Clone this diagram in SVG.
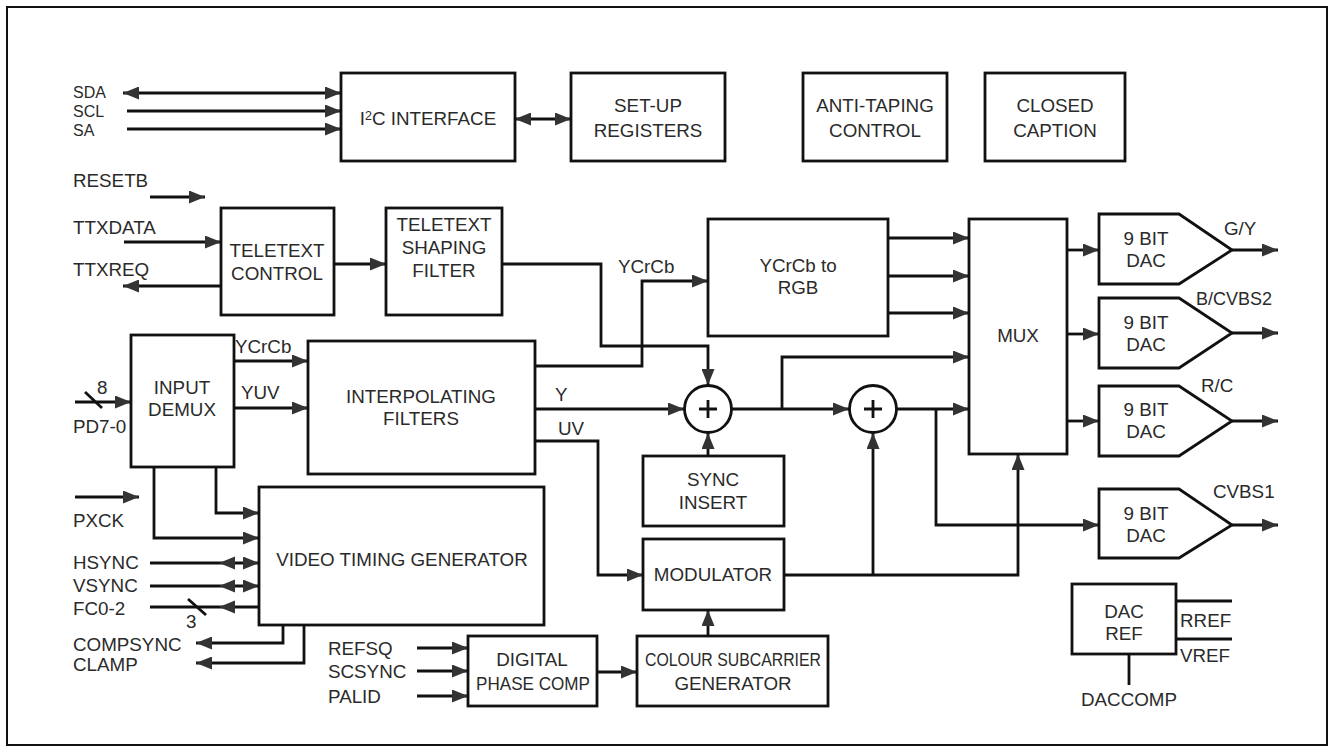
<svg xmlns="http://www.w3.org/2000/svg" width="1334" height="752" viewBox="0 0 1334 752">
<style>
.b{fill:#fff;stroke:#111;stroke-width:2.8}
.l{fill:none;stroke:#111;stroke-width:2.8}
.t{font-family:"Liberation Sans",Arial,sans-serif;font-size:18.8px;fill:#2a2a2a}
.s{font-size:16px}
.c{text-anchor:middle}
.ah{fill:#333}
</style>
<defs>
<marker id="a" markerWidth="16" markerHeight="13" refX="16" refY="6.5" orient="auto-start-reverse" markerUnits="userSpaceOnUse"><path d="M0,0 L16,6.5 L0,13 z" fill="#333"/></marker>
</defs>
<rect x="7" y="7" width="1320" height="738" fill="#fff" stroke="#111" stroke-width="2"/>

<g id="connectors">
<path class="l" d="M123,93 H341" marker-start="url(#a)" marker-end="url(#a)"/>
<path class="l" d="M127,111 H341" marker-end="url(#a)"/>
<path class="l" d="M127,129 H341" marker-end="url(#a)"/>
<path class="l" d="M515,119 H571" marker-start="url(#a)" marker-end="url(#a)"/>
<path class="l" d="M150,197 H205" marker-end="url(#a)"/>
<path class="l" d="M124,242 H221" marker-end="url(#a)"/>
<path class="l" d="M221,286 H123" marker-end="url(#a)"/>
<path class="l" d="M334,264 H386" marker-end="url(#a)"/>
<path class="l" d="M502,264 H601 V346 H708 V385" marker-end="url(#a)"/>
<path class="l" d="M535,366 H642 V281 H708" marker-end="url(#a)"/>
<path class="l" d="M234,361 H308" marker-end="url(#a)"/>
<path class="l" d="M234,408 H308" marker-end="url(#a)"/>
<path class="l" d="M75,402 H131" marker-end="url(#a)"/>
<path class="l" d="M85,392 L102,408"/>
<path class="l" d="M535,409 H684" marker-end="url(#a)"/>
<path class="l" d="M535,441 H598 V575 H643" marker-end="url(#a)"/>
<path class="l" d="M708,456 V433" marker-end="url(#a)"/>
<path class="l" d="M731,409 H849" marker-end="url(#a)"/>
<path class="l" d="M782,409 V357 H969" marker-end="url(#a)"/>
<path class="l" d="M897,409 H969" marker-end="url(#a)"/>
<path class="l" d="M936,409 V525 H1099" marker-end="url(#a)"/>
<path class="l" d="M784,575 H1018 V454" marker-end="url(#a)"/>
<path class="l" d="M873,575 V433" marker-end="url(#a)"/>
<path class="l" d="M708,636 V610" marker-end="url(#a)"/>
<path class="l" d="M597,672 H637" marker-end="url(#a)"/>
<path class="l" d="M417,648 H468" marker-end="url(#a)"/>
<path class="l" d="M417,671 H468" marker-end="url(#a)"/>
<path class="l" d="M417,696 H468" marker-end="url(#a)"/>
<path class="l" d="M888,238 H969" marker-end="url(#a)"/>
<path class="l" d="M888,276 H969" marker-end="url(#a)"/>
<path class="l" d="M888,313 H969" marker-end="url(#a)"/>
<path class="l" d="M1067,250 H1099" marker-end="url(#a)"/>
<path class="l" d="M1067,334 H1099" marker-end="url(#a)"/>
<path class="l" d="M1067,421 H1099" marker-end="url(#a)"/>
<path class="l" d="M1232,250 H1278" marker-end="url(#a)"/>
<path class="l" d="M1232,333 H1278" marker-end="url(#a)"/>
<path class="l" d="M1232,421 H1278" marker-end="url(#a)"/>
<path class="l" d="M1232,525 H1278" marker-end="url(#a)"/>
<path class="l" d="M154,467 V538 H259" marker-end="url(#a)"/>
<path class="l" d="M216,467 V513 H259" marker-end="url(#a)"/>
<path class="l" d="M75,497 H139" marker-end="url(#a)"/>
<path class="l" d="M150,563 H259" marker-end="url(#a)"/>
<polygon class="ah" points="219,563 235,556.5 235,569.5"/>
<path class="l" d="M150,586 H259" marker-end="url(#a)"/>
<polygon class="ah" points="219,586 235,579.5 235,592.5"/>
<path class="l" d="M150,607 H259"/>
<polygon class="ah" points="219,607 235,600.5 235,613.5"/>
<path class="l" d="M188,599 L206,615"/>
<path class="l" d="M283,625 V643 H196" marker-end="url(#a)"/>
<path class="l" d="M304,625 V663 H196" marker-end="url(#a)"/>
<path class="l" d="M1176,601 H1232"/>
<path class="l" d="M1176,639 H1232"/>
<path class="l" d="M1129,654 V685"/>
</g>

<g id="i2c"><rect class="b" x="341" y="73" width="174" height="88"/><text class="t c" x="428" y="125">I<tspan font-size="12.5" dy="-5">2</tspan><tspan dy="5">C INTERFACE</tspan></text></g>
<g id="setup"><rect class="b" x="571" y="73" width="154" height="88"/><text class="t c" x="648" y="112">SET-UP</text><text class="t c" x="648" y="137">REGISTERS</text></g>
<g id="antitaping"><rect class="b" x="803" y="73" width="144" height="88"/><text class="t c" x="875" y="112">ANTI-TAPING</text><text class="t c" x="875" y="137">CONTROL</text></g>
<g id="closedcaption"><rect class="b" x="985" y="73" width="140" height="88"/><text class="t c" x="1055" y="112">CLOSED</text><text class="t c" x="1055" y="137">CAPTION</text></g>
<g id="ttxcontrol"><rect class="b" x="221" y="208" width="113" height="107"/><text class="t c" x="277" y="257">TELETEXT</text><text class="t c" x="277" y="280">CONTROL</text></g>
<g id="ttxshaping"><rect class="b" x="386" y="208" width="116" height="107"/><text class="t c" x="444" y="231">TELETEXT</text><text class="t c" x="444" y="254">SHAPING</text><text class="t c" x="444" y="277">FILTER</text></g>
<g id="ycrcb2rgb"><rect class="b" x="708" y="219" width="180" height="117"/><text class="t c" x="798" y="272">YCrCb to</text><text class="t c" x="798" y="294">RGB</text></g>
<g id="mux"><rect class="b" x="969" y="219" width="98" height="235"/><text class="t c" x="1018" y="342">MUX</text></g>
<g id="inputdemux"><rect class="b" x="131" y="335" width="103" height="132"/><text class="t c" x="182" y="394">INPUT</text><text class="t c" x="182" y="416">DEMUX</text></g>
<g id="interp"><rect class="b" x="308" y="341" width="227" height="133"/><text class="t c" x="421" y="403">INTERPOLATING</text><text class="t c" x="421" y="425">FILTERS</text></g>
<g id="adder1"><circle class="b" cx="708" cy="409" r="23.5"/><path class="l" d="M708,400 V418 M699,409 H717" stroke-width="2.4"/></g>
<g id="adder2"><circle class="b" cx="873" cy="409" r="23.5"/><path class="l" d="M873,400 V418 M864,409 H882" stroke-width="2.4"/></g>
<g id="syncinsert"><rect class="b" x="643" y="456" width="141" height="70"/><text class="t c" x="713" y="486">SYNC</text><text class="t c" x="713" y="509">INSERT</text></g>
<g id="modulator"><rect class="b" x="643" y="539" width="141" height="71"/><text class="t c" x="713" y="581">MODULATOR</text></g>
<g id="vtg"><rect class="b" x="259" y="487" width="285" height="138"/><text class="t c" x="402" y="566">VIDEO TIMING GENERATOR</text></g>
<g id="dpc"><rect class="b" x="468" y="636" width="129" height="70"/><text class="t c" x="532" y="666">DIGITAL</text><text class="t c" x="533" y="690" textLength="114" lengthAdjust="spacingAndGlyphs">PHASE COMP</text></g>
<g id="csg"><rect class="b" x="637" y="636" width="191" height="70"/><text class="t c" x="733" y="666" textLength="176" lengthAdjust="spacingAndGlyphs">COLOUR SUBCARRIER</text><text class="t c" x="733" y="690">GENERATOR</text></g>
<g id="dac1"><polygon class="b" points="1099,214 1179,214 1232,250 1179,284 1099,284"/><text class="t c" x="1146" y="245">9 BIT</text><text class="t c" x="1146" y="267">DAC</text></g>
<g id="dac2"><polygon class="b" points="1099,298 1179,298 1232,333 1179,368 1099,368"/><text class="t c" x="1146" y="329">9 BIT</text><text class="t c" x="1146" y="351">DAC</text></g>
<g id="dac3"><polygon class="b" points="1099,386 1179,386 1232,421 1179,456 1099,456"/><text class="t c" x="1146" y="416">9 BIT</text><text class="t c" x="1146" y="438">DAC</text></g>
<g id="dac4"><polygon class="b" points="1099,489 1179,489 1232,525 1179,558 1099,558"/><text class="t c" x="1146" y="520">9 BIT</text><text class="t c" x="1146" y="542">DAC</text></g>
<g id="dacref"><rect class="b" x="1072" y="584" width="104" height="70"/><text class="t c" x="1124" y="618">DAC</text><text class="t c" x="1124" y="640">REF</text></g>

<g id="labels">
<text class="t s" x="73" y="98">SDA</text>
<text class="t s" x="73" y="117">SCL</text>
<text class="t s" x="73" y="136">SA</text>
<text class="t" x="73" y="187">RESETB</text>
<text class="t" x="73" y="234">TTXDATA</text>
<text class="t" x="73" y="276">TTXREQ</text>
<text class="t" x="97" y="394">8</text>
<text class="t" x="73" y="433">PD7-0</text>
<text class="t" x="73" y="527">PXCK</text>
<text class="t" x="73" y="569">HSYNC</text>
<text class="t" x="73" y="592">VSYNC</text>
<text class="t" x="73" y="615">FC0-2</text>
<text class="t" x="186" y="628">3</text>
<text class="t" x="73" y="651">COMPSYNC</text>
<text class="t" x="73" y="671">CLAMP</text>
<text class="t" x="328" y="655">REFSQ</text>
<text class="t" x="328" y="678">SCSYNC</text>
<text class="t" x="328" y="703">PALID</text>
<text class="t" x="235" y="353">YCrCb</text>
<text class="t" x="241" y="399">YUV</text>
<text class="t" x="618" y="273">YCrCb</text>
<text class="t" x="555" y="401">Y</text>
<text class="t" x="558" y="435">UV</text>
<text class="t" x="1224" y="235">G/Y</text>
<text class="t" x="1196" y="305" textLength="76" lengthAdjust="spacingAndGlyphs">B/CVBS2</text>
<text class="t" x="1201" y="392">R/C</text>
<text class="t" x="1213" y="498">CVBS1</text>
<text class="t" x="1180" y="627">RREF</text>
<text class="t" x="1180" y="662">VREF</text>
<text class="t c" x="1129" y="706">DACCOMP</text>
</g>
</svg>
